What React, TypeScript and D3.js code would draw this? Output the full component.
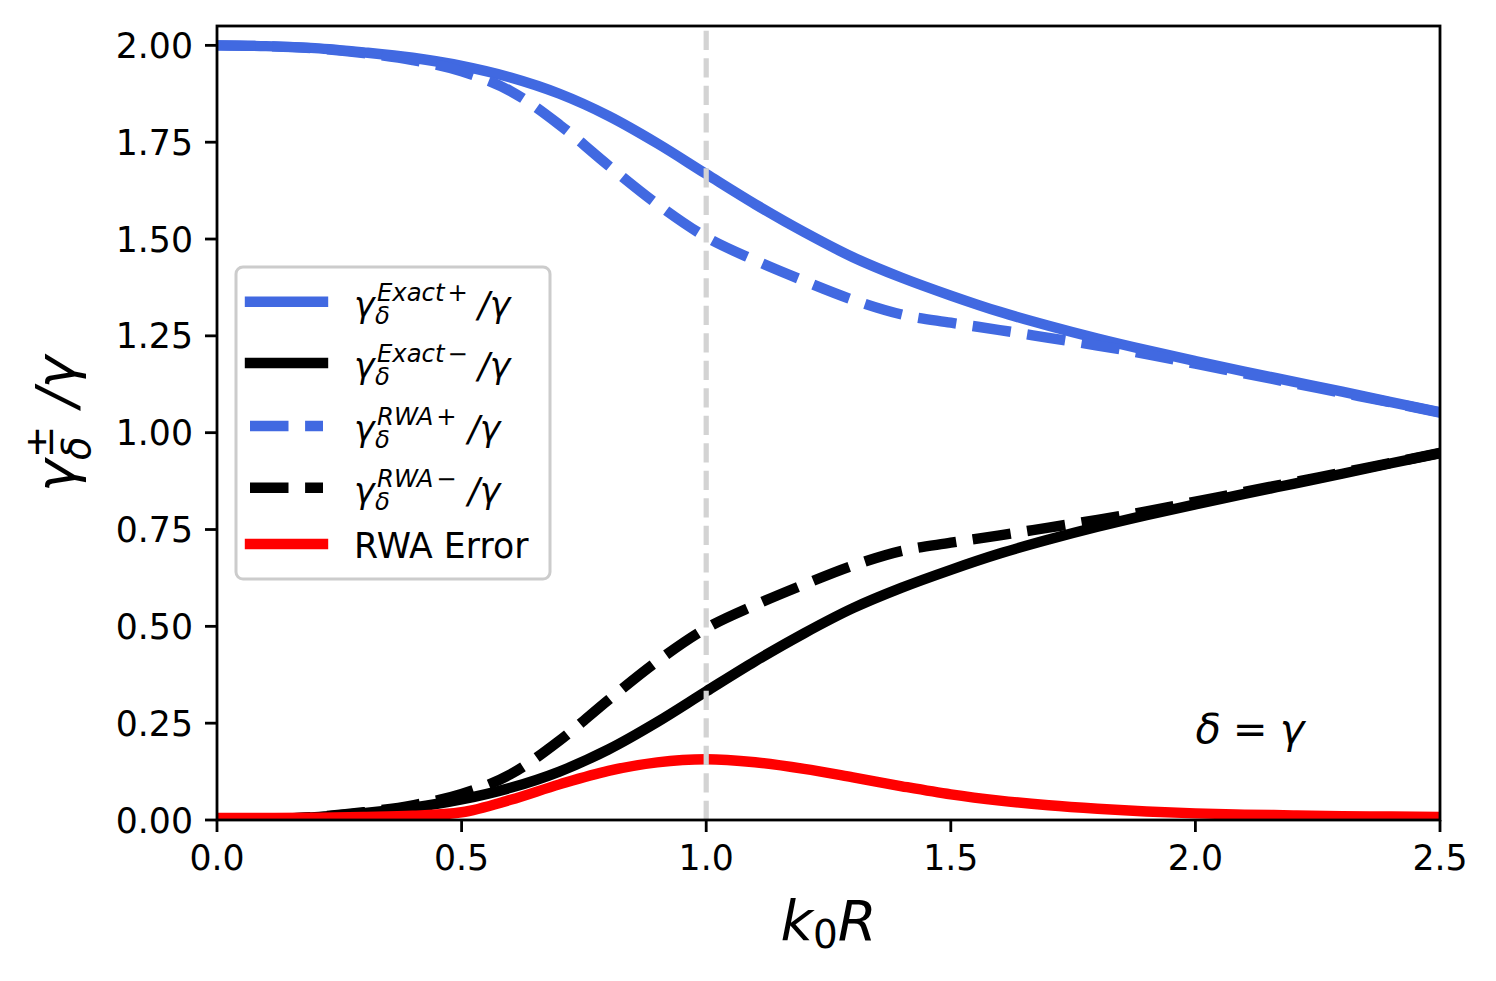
import React from "react"
import * as d3 from "d3"

// k0R sample points
const k0R = [
  0.0, 0.1, 0.2, 0.3, 0.4, 0.5, 0.6, 0.7, 0.8, 0.9, 1.0, 1.1, 1.2,
  1.3, 1.4, 1.5, 1.6, 1.7, 1.8, 1.9, 2.0, 2.1, 2.2, 2.3, 2.4, 2.5,
]

const exactPlus = [
  2.0, 1.998, 1.993, 1.982, 1.968, 1.947, 1.917, 1.875, 1.818, 1.747, 1.668, 1.59, 1.518,
  1.453, 1.4, 1.354, 1.312, 1.276, 1.243, 1.213, 1.185, 1.158, 1.132, 1.106, 1.079, 1.053,
]
const exactMinus = [
  0.0, 0.002, 0.007, 0.018, 0.032, 0.053, 0.083, 0.125, 0.182, 0.253, 0.332, 0.41, 0.482,
  0.547, 0.6, 0.646, 0.688, 0.724, 0.757, 0.787, 0.815, 0.842, 0.868, 0.894, 0.921, 0.947,
]
const rwaPlus = [
  2.0, 1.998, 1.992, 1.98, 1.962, 1.933, 1.882, 1.795, 1.69, 1.59, 1.505, 1.445, 1.392,
  1.343, 1.305, 1.284, 1.265, 1.245, 1.225, 1.203, 1.178, 1.153, 1.128, 1.103, 1.078, 1.052,
]
const rwaMinus = [
  0.0, 0.002, 0.008, 0.02, 0.038, 0.067, 0.118, 0.205, 0.31, 0.41, 0.495, 0.555, 0.608,
  0.657, 0.695, 0.716, 0.735, 0.755, 0.775, 0.797, 0.822, 0.847, 0.872, 0.897, 0.922, 0.948,
]
const rwaError = [
  0.005, 0.005, 0.006, 0.008, 0.011, 0.02, 0.052, 0.092, 0.127, 0.149, 0.157, 0.149, 0.132,
  0.11, 0.087, 0.066, 0.05, 0.038, 0.029, 0.022, 0.017, 0.014, 0.012, 0.01, 0.009, 0.008,
]

const xTicks = [0, 0.5, 1.0, 1.5, 2.0, 2.5]
const yTicks = [0, 0.25, 0.5, 0.75, 1.0, 1.25, 1.5, 1.75, 2.0]

const W = 1496
const H = 981
const margin = { top: 26, right: 56, bottom: 161, left: 217 }

const FONT = "'DejaVu Sans', sans-serif"
const BLUE = "#4169e1"
const LW = 10.4
const DASH = "38.5 16.6"

const series = [
  { label: "Exact", sign: "+", values: exactPlus, color: BLUE, dashed: false },
  { label: "Exact", sign: "\u2212", values: exactMinus, color: "#000000", dashed: false },
  { label: "RWA", sign: "+", values: rwaPlus, color: BLUE, dashed: true },
  { label: "RWA", sign: "\u2212", values: rwaMinus, color: "#000000", dashed: true },
]

const App: React.FC = () => {
  const x = d3.scaleLinear().domain([0, 2.5]).range([margin.left, W - margin.right])
  const y = d3.scaleLinear().domain([0, 2.05]).range([H - margin.bottom, margin.top])

  const line = (vals: number[]) =>
    d3.line<number>()
      .x((d, i) => x(k0R[i]))
      .y(d => y(d))
      .curve(d3.curveMonotoneX)(vals) || ""

  const x0 = x(0), x1 = x(2.5), y0 = y(0), y1 = y(2.05)

  // legend rows
  const legX = 236, legY = 267, legW = 314, legH = 312
  const rowY = [301.7, 363, 426, 487.7, 544]

  return (
    <svg width={W} height={H} style={{ position: "absolute", left: 0, top: 0, background: "#fff" }}
      fontFamily={FONT}>
      <defs>
        <clipPath id="plot-clip">
          <rect x={x0} y={y1} width={x1 - x0} height={y0 - y1} />
        </clipPath>
      </defs>
      <rect x={0} y={0} width={W} height={H} fill="#ffffff" />

      <g clipPath="url(#plot-clip)">
        {series.map((s, i) => (
          <path key={i} d={line(s.values)} fill="none" stroke={s.color} strokeWidth={LW}
            strokeDasharray={s.dashed ? DASH : undefined}
            strokeLinecap={s.dashed ? "butt" : "square"} strokeLinejoin="round" />
        ))}
        <path d={line(rwaError)} fill="none" stroke="#ff0000" strokeWidth={LW}
          strokeLinecap="square" strokeLinejoin="round" />
        <line x1={x(1.0)} x2={x(1.0)} y1={y0} y2={y1} stroke="#d3d3d3" strokeWidth={5.2}
          strokeDasharray="19.2 8.3" />
      </g>

      {/* spines */}
      <rect x={x0} y={y1} width={x1 - x0} height={y0 - y1} fill="none" stroke="#000" strokeWidth={2.8} />

      {/* x ticks */}
      {xTicks.map(t => (
        <g key={"x" + t}>
          <line x1={x(t)} x2={x(t)} y1={y0} y2={y0 + 12} stroke="#000" strokeWidth={2.8} />
          <text x={x(t)} y={y0 + 50} fontSize={34.7} textAnchor="middle">{d3.format(".1f")(t)}</text>
        </g>
      ))}
      {/* y ticks */}
      {yTicks.map(t => (
        <g key={"y" + t}>
          <line x1={x0 - 12} x2={x0} y1={y(t)} y2={y(t)} stroke="#000" strokeWidth={2.8} />
          <text x={x0 - 24} y={y(t) + 12.5} fontSize={34.7} textAnchor="end">{d3.format(".2f")(t)}</text>
        </g>
      ))}

      {/* x label */}
      <text x={(x0 + x1) / 2 - 48} y={940} fontSize={56}>
        <tspan fontStyle="italic">k</tspan>
        <tspan fontSize={39} dy={8}>0</tspan>
        <tspan fontStyle="italic" dy={-8}>R</tspan>
      </text>

      {/* y label */}
      <text transform="translate(75, 421) rotate(-90)" fontSize={55}>
        <tspan x={-71} y={0} fontStyle="italic">γ</tspan>
        <tspan x={-39} y={15} fontSize={38.5} fontStyle="italic">δ</tspan>
        <tspan x={-37} y={-22} fontSize={38.5}>±</tspan>
        <tspan x={14} y={0} fontStyle="italic">/γ</tspan>
      </text>

      {/* annotation */}
      <text x={x(2.0)} y={y(0.2)} fontSize={41.6} fontStyle="italic">
        δ<tspan fontStyle="normal" dx={12}>=</tspan><tspan dx={12}>γ</tspan>
      </text>

      {/* legend */}
      <rect x={legX} y={legY} width={legW} height={legH} rx={7} fill="#ffffff" fillOpacity={0.8}
        stroke="#cccccc" strokeWidth={3} />
      {series.map((s, i) => {
        const cy = rowY[i]
        const base = cy + 15
        const tail = s.label === "Exact" ? 478 : 468
        return (
          <g key={"leg" + i}>
            <line x1={250} x2={323} y1={cy} y2={cy} stroke={s.color} strokeWidth={LW}
              strokeDasharray={s.dashed ? DASH : undefined} strokeLinecap={s.dashed ? "butt" : "square"} />
            <text fontSize={34.7}>
              <tspan x={354} y={base} fontStyle="italic">γ</tspan>
              <tspan x={375} y={base + 7} fontSize={24.3} fontStyle="italic">δ</tspan>
              <tspan x={377} y={base - 16} fontSize={24.3} fontStyle="italic">{s.label}</tspan>
              <tspan dx={3} fontSize={24.3}>{s.sign}</tspan>
              <tspan x={tail} y={base} fontStyle="italic">/γ</tspan>
            </text>
          </g>
        )
      })}
      <line x1={250} x2={323} y1={rowY[4]} y2={rowY[4]} stroke="#ff0000" strokeWidth={LW} strokeLinecap="square" />
      <text x={354} y={rowY[4] + 13.7} fontSize={34.7}>RWA Error</text>
    </svg>
  )
}

export default App
